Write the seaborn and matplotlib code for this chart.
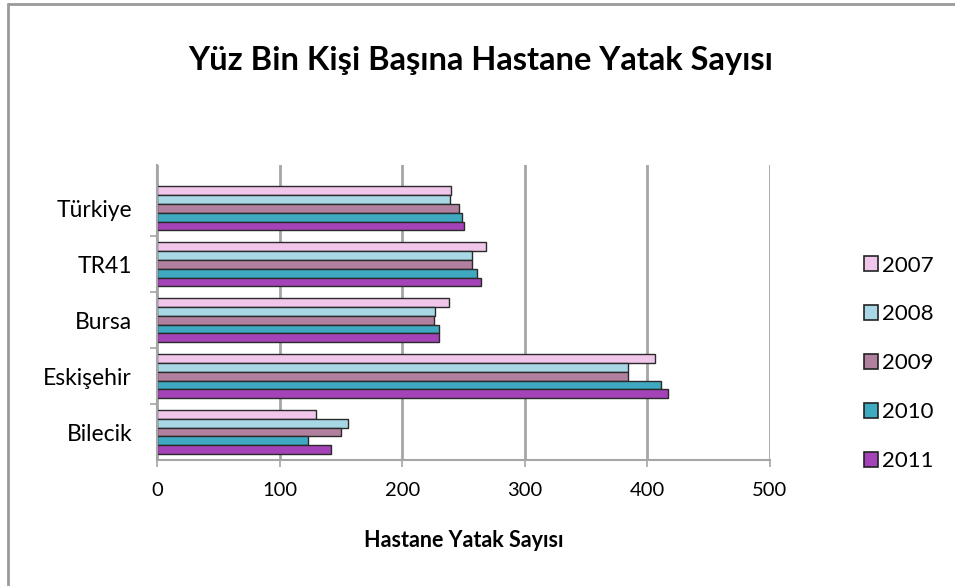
import matplotlib
matplotlib.use("Agg")
import matplotlib.pyplot as plt
import seaborn as sns
import pandas as pd
from matplotlib.patches import Rectangle
from matplotlib.lines import Line2D

regions = ["Türkiye", "TR41", "Bursa", "Eskişehir", "Bilecik"]
years = ["2007", "2008", "2009", "2010", "2011"]

beds_2007 = [240, 268, 238, 406, 130]
beds_2008 = [239, 257, 227, 384, 156]
beds_2009 = [246, 257, 226, 384, 150]
beds_2010 = [249, 261, 230, 411, 123]
beds_2011 = [250, 264, 230, 417, 142]

colors = ["#F0C6EA", "#A8D8E6", "#B2809F", "#3FA9C2", "#A442B8"]

rows = []
for year, vals in zip(years, [beds_2007, beds_2008, beds_2009, beds_2010, beds_2011]):
    for reg, v in zip(regions, vals):
        rows.append({"Bölge": reg, "Yıl": year, "Yatak": v})
df = pd.DataFrame(rows)

sns.set_theme(style="white")
plt.rcParams['font.family'] = ['Lato', 'DejaVu Sans']
plt.rcParams['text.color'] = 'black'
plt.rcParams['axes.labelcolor'] = 'black'

fig = plt.figure(figsize=(9.55, 5.86), dpi=100)
# axes from y=165px to y=460px, x from 157px to 770px
ax = fig.add_axes([157 / 955, 1 - 460 / 586, (770 - 157) / 955, (460 - 165) / 586])

sns.barplot(data=df, x="Yatak", y="Bölge", hue="Yıl", order=regions,
            hue_order=years, palette=colors, orient="h", width=0.8,
            edgecolor="#2a2a2a", linewidth=1.0, saturation=1, ax=ax,
            legend=False)

ax.set_xlim(0, 500)
ax.set_ylim(4.5, -0.77)
ax.set_xticks([0, 100, 200, 300, 400, 500])
ax.set_yticks(range(len(regions)))
ax.set_yticklabels(regions)
ax.set_yticks([0.5, 1.5, 2.5, 3.5], minor=True)
ax.grid(axis="x", color="#a6a6a6", linewidth=2)
ax.set_axisbelow(True)
for s in ["top", "right"]:
    ax.spines[s].set_visible(False)
ax.spines["left"].set_color("#a6a6a6")
ax.spines["bottom"].set_color("#a6a6a6")
ax.spines["left"].set_linewidth(1.5)
ax.spines["bottom"].set_linewidth(1.5)
ax.tick_params(axis="x", labelsize=14.5, colors="#a6a6a6", labelcolor="black",
               length=5, width=1.2, bottom=True, pad=11)
ax.tick_params(axis="y", which="major", labelsize=16.5, labelcolor="black",
               length=0, left=True, pad=18)
ax.tick_params(axis="y", which="minor", colors="#a6a6a6", length=5, width=1.2,
               left=True)
ax.set_ylabel("")
ax.set_xlabel("Hastane Yatak Sayısı", fontsize=15.5, fontweight="bold", labelpad=22)

fig.suptitle("Yüz Bin Kişi Başına Hastane Yatak Sayısı", fontsize=23.5,
             fontweight="bold", x=0.503, y=0.922, color="black")

handles = [Rectangle((0, 0), 1, 1, facecolor=c, edgecolor="#222222", linewidth=1.2)
           for c in colors]
fig.legend(handles, years, loc="center left", bbox_to_anchor=(0.893, 0.38),
           frameon=False, fontsize=16, handlelength=0.65, handleheight=0.65,
           handletextpad=0.15, labelspacing=1.3, borderpad=0)

# chart area border (top and left edges only are visible in the frame)
fig.add_artist(Line2D([8 / 955, 1.0], [1 - 4 / 586, 1 - 4 / 586],
                      transform=fig.transFigure, color="#9a9a9a", linewidth=2))
fig.add_artist(Line2D([8 / 955, 8 / 955], [0.0, 1 - 4 / 586],
                      transform=fig.transFigure, color="#9a9a9a", linewidth=2))

fig.savefig("out.png", dpi=100)
